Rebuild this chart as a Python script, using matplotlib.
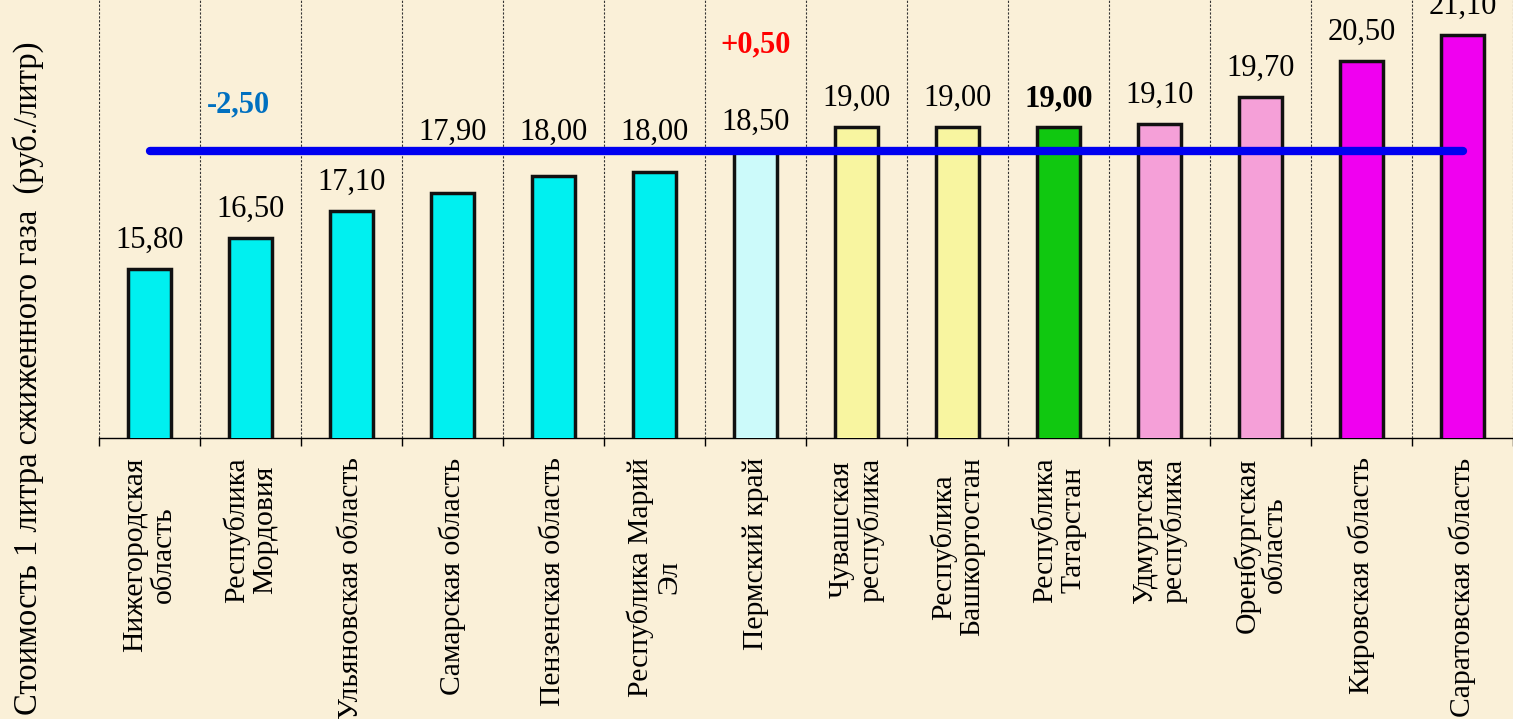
import numpy as np
import matplotlib
matplotlib.use("Agg")
import matplotlib.pyplot as plt

# Regions and prices of liquefied gas (rub/litre)
regions = ["Нижегородская\nобласть", "Республика\nМордовия", "Ульяновская область",
           "Самарская область", "Пензенская область", "Республика Марий\nЭл",
           "Пермский край", "Чувашская\nреспублика", "Республика\nБашкортостан",
           "Республика\nТатарстан", "Удмуртская\nреспублика", "Оренбургская\nобласть",
           "Кировская область", "Саратовская область"]
prices = [15.80, 16.50, 17.10, 17.90, 18.00, 18.00, 18.50,
          19.00, 19.00, 19.00, 19.10, 19.70, 20.50, 21.10]
# bar heights as drawn on the slide (Самарская bar is drawn lower than its label)
heights = [15.83, 16.53, 17.14, 17.55, 17.93, 18.02, 18.50,
           19.04, 19.04, 19.04, 19.11, 19.72, 20.54, 21.13]
average = 18.5
colors = ["#00F0F0"] * 6 + ["#CCFAFA"] + ["#F8F5A0"] * 2 + ["#10C810"] + \
         ["#F5A0D8"] * 2 + ["#F000F0"] * 2

bg = "#FAF0D8"
plt.rcParams["font.family"] = ["Liberation Serif", "DejaVu Serif"]

fig = plt.figure(figsize=(15.13, 7.19), dpi=100, facecolor=bg)
ax = fig.add_axes([99 / 1513, 1 - 438 / 719, 1 - 99 / 1513, 438 / 719])
ax.set_facecolor(bg)

x = np.arange(len(regions))
ax.bar(x, heights, width=0.43, color=colors, edgecolor="#111111", linewidth=2.5, zorder=3)

# average line across bar centres
ax.plot([x[0], x[-1]], [average, average], color="#0000F0", linewidth=6,
        solid_capstyle="round", zorder=4)

# value labels, lifted above the average line where they would collide
for i, (h, p) in enumerate(zip(heights, prices)):
    y = h + 0.32
    if y < average + 0.1 and y + 0.75 > average - 0.1:
        y = average + 0.1
    weight = "bold" if i == 9 else "normal"
    ax.text(i, y, f"{p:.2f}".replace(".", ","), ha="center", va="bottom",
            fontsize=22, fontweight=weight, zorder=5)

ax.text(0.88, 19.54, "-2,50", color="#0070C0", fontsize=22, fontweight="bold",
        ha="center", va="center")
ax.text(6, 20.9, "+0,50", color="#FF0000", fontsize=22, fontweight="bold",
        ha="center", va="center")

ax.set_xlim(-0.5, len(regions) - 0.5)
ax.set_ylim(12, 12 + 438 / 44.15)

bounds = np.arange(len(regions) + 1) - 0.5
ax.set_xticks(bounds)
ax.set_xticklabels([])
ax.tick_params(axis="x", which="major", direction="out", length=6, width=1)
ax.set_xticks(x, minor=True)
ax.set_xticklabels(regions, minor=True, rotation=90, fontsize=21.3,
                   va="top", ha="center", linespacing=1.1)
ax.tick_params(axis="x", which="minor", length=0, pad=14)
ax.set_yticks([])

for b in bounds:
    ax.axvline(b, color="#333333", linewidth=0.8, linestyle=(0, (2, 1.5)), zorder=1)

for side in ["top", "right", "left"]:
    ax.spines[side].set_visible(False)
ax.spines["bottom"].set_linewidth(1)

fig.text(28 / 1513, 1 - 378 / 719, "Стоимость 1 литра сжиженного газа  (руб./литр)",
         rotation=90, ha="center", va="center", fontsize=23.5)

fig.savefig("out.png", dpi=100, facecolor=bg)
